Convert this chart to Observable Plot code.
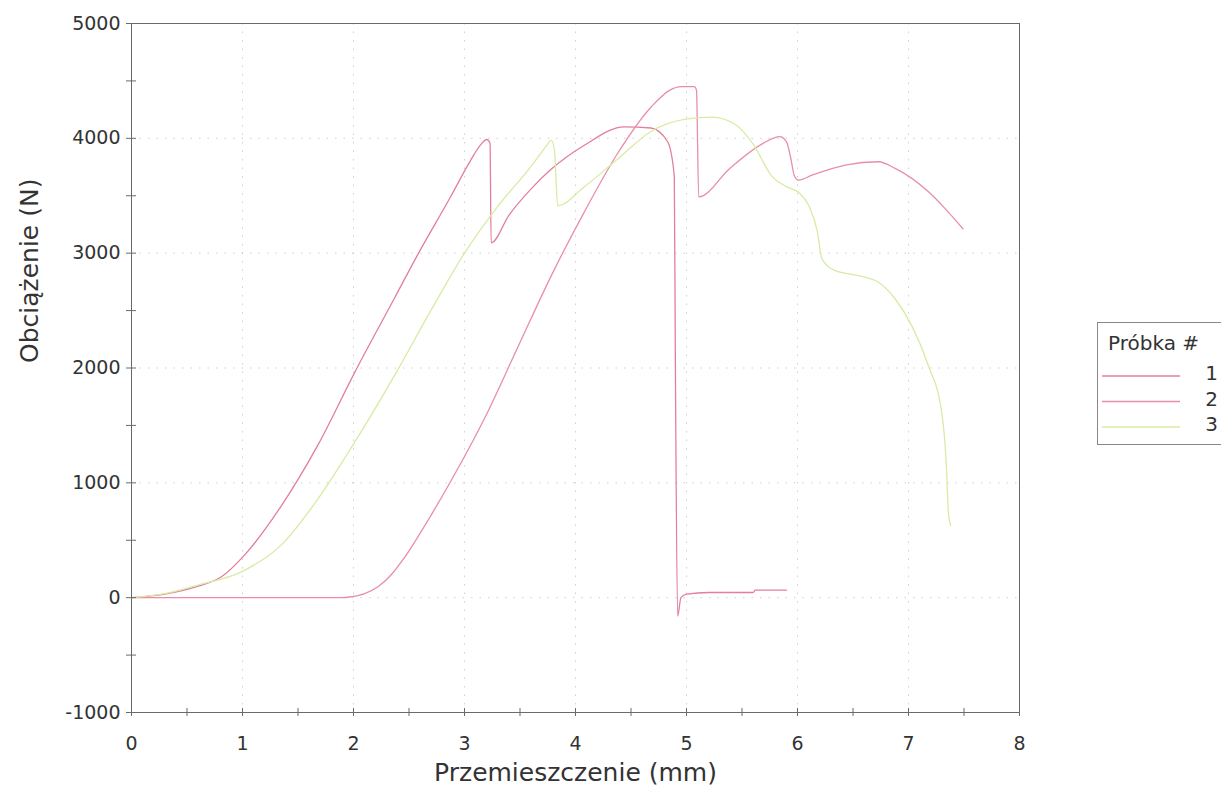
<!DOCTYPE html>
<html><head><meta charset="utf-8">
<script src="https://cdn.jsdelivr.net/npm/d3@7"></script>
<script src="https://cdn.jsdelivr.net/npm/@observablehq/plot@0.6"></script>
<style>
body{margin:0;background:#fff;font-family:"DejaVu Sans",Verdana,sans-serif;}
#wrap{position:relative;width:1221px;height:801px;overflow:hidden;}
#legend{position:absolute;left:1097px;top:322px;}
</style></head><body><div id="wrap"></div>
<script>
// ---- data ----
const seriesNames = ["1", "2", "3"];
const seriesColors = ["#e27f9b", "#e88ea8", "#d6eca4"];

const x1 = [0, 0.3, 0.6, 0.81, 1.02, 1.35, 1.68, 2.01, 2.37, 2.58, 2.88, 3.05, 3.15, 3.2, 3.23, 3.24, 3.4, 3.6, 3.78, 4.08, 4.44, 4.68, 4.83, 4.89, 4.9, 4.92, 4.95, 5.0, 5.2, 5.6, 5.62, 5.9];
const y1 = [0, 30, 100, 182, 373, 800, 1330, 1960, 2610, 2990, 3500, 3800, 3950, 3990, 3960, 3090, 3330, 3560, 3730, 3940, 4100, 4090, 3970, 3670, 2000, -160, 0, 30, 45, 45, 65, 65];

const x2 = [0, 1.0, 1.89, 1.98, 2.1, 2.22, 2.34, 2.46, 2.58, 2.88, 3.18, 3.48, 3.78, 4.08, 4.38, 4.68, 4.85, 4.95, 5.07, 5.09, 5.11, 5.39, 5.69, 5.84, 5.9, 5.94, 5.97, 6.01, 6.13, 6.43, 6.73, 6.88, 7.18, 7.33, 7.49];
const y2 = [0, 0, 0, 8, 35, 95, 200, 350, 530, 1020, 1560, 2180, 2800, 3360, 3870, 4271, 4420, 4450, 4450, 4420, 3490, 3738, 3956, 4015, 3971, 3825, 3679, 3636, 3679, 3767, 3796, 3738, 3534, 3388, 3213];

const x3 = [0, 0.3, 0.6, 0.99, 1.35, 1.68, 2.01, 2.40, 2.70, 3.0, 3.30, 3.60, 3.75, 3.78, 3.81, 3.84, 4.08, 4.38, 4.68, 4.98, 5.23, 5.44, 5.6, 5.77, 5.9, 6.01, 6.10, 6.18, 6.22, 6.34, 6.55, 6.73, 6.88, 7.03, 7.18, 7.30, 7.34, 7.36, 7.38];
const y3 = [0, 35, 110, 225, 460, 860, 1353, 1986, 2506, 3000, 3408, 3755, 3950, 3985, 3900, 3414, 3579, 3820, 4060, 4165, 4185, 4120, 3950, 3669, 3580, 3530, 3417, 3184, 2950, 2848, 2805, 2746, 2601, 2367, 2017, 1609, 1172, 735, 630];

const xTickLabels = [0, 1, 2, 3, 4, 5, 6, 7, 8];
const xTickMarks = [0, 0.5, 1, 1.5, 2, 2.5, 3, 3.5, 4, 4.5, 5, 5.5, 6, 6.5, 7, 7.5, 8];
const yTickLabels = [-1000, 0, 1000, 2000, 3000, 4000, 5000];
const yTickMarks = [-1000, -500, 0, 500, 1000, 1500, 2000, 2500, 3000, 3500, 4000, 4500, 5000];
const xGrid = [1, 2, 3, 4, 5, 6, 7];
const yGrid = [0, 1000, 2000, 3000, 4000];

const xTitle = "Przemieszczenie (mm)";
const yTitle = "Obciążenie (N)";
const legendTitle = "Próbka #";

// ---- build table ----
const xs = [x1, x2, x3], ys = [y1, y2, y3];
const data = [];
seriesNames.forEach((name, i) => xs[i].forEach((x, j) => data.push({series: name, x, y: ys[i][j]})));

const font = "DejaVu Sans, Verdana, sans-serif";
const textColor = "#333";
const axisColor = "#6a6a6a";
const plain = d => String(d);

const chart = Plot.plot({
  width: 1221,
  height: 801,
  marginLeft: 131,
  marginRight: 202,
  marginTop: 23,
  marginBottom: 89,
  style: {fontFamily: font, fontSize: "19px", color: textColor, background: "#fff"},
  x: {domain: [0, 8], label: null, axis: null},
  y: {domain: [-1000, 5000], label: null, axis: null},
  color: {domain: seriesNames, range: seriesColors},
  marks: [
    Plot.gridX(xGrid, {stroke: "#aaa", strokeOpacity: 0.55, strokeDasharray: "1.5,7"}),
    Plot.gridY(yGrid, {stroke: "#aaa", strokeOpacity: 0.55, strokeDasharray: "1.5,7"}),
    Plot.line(data, {x: "x", y: "y", z: "series", stroke: "series", strokeWidth: 1.3, curve: "monotone-x"}),
    Plot.frame({stroke: axisColor, strokeOpacity: 1}),
    Plot.axisY(yTickMarks, {tickSize: 10, dx: 5, fill: "none", stroke: axisColor, label: null}),
    Plot.axisY(yTickLabels, {tickSize: 0, tickPadding: 11, fill: textColor, fontSize: 19, tickFormat: plain, label: null}),
    Plot.axisX(xTickMarks, {tickSize: 8, dy: -4, fill: "none", stroke: axisColor, label: null}),
    Plot.axisX(xTickLabels, {tickSize: 0, tickPadding: 24, fill: textColor, fontSize: 19, tickFormat: plain, label: null}),
    Plot.text([yTitle], {text: d => d, frameAnchor: "left", dx: -102, dy: -5, rotate: -90, fontSize: 25, fill: textColor}),
    Plot.text([xTitle], {text: d => d, frameAnchor: "bottom", dy: 68, fontSize: 25, fill: textColor})
  ]
});
document.getElementById("wrap").appendChild(chart);

// ---- legend ----
const lg = d3.select("#wrap").append("svg").attr("id", "legend")
  .attr("width", 124).attr("height", 127)
  .style("font-family", font);
lg.append("rect").attr("x", 0.5).attr("y", 0.5).attr("width", 160).attr("height", 122)
  .attr("fill", "#fff").attr("stroke", "#888");
lg.append("text").attr("x", 11).attr("y", 28).attr("font-size", 20).attr("fill", textColor).text(legendTitle);
seriesNames.forEach((name, i) => {
  const cy = 54 + i * 25.5;
  lg.append("line").attr("x1", 5).attr("x2", 83).attr("y1", cy).attr("y2", cy)
    .attr("stroke", seriesColors[i]).attr("stroke-width", 1.3);
  lg.append("text").attr("x", 121).attr("y", cy + 4).attr("text-anchor", "end")
    .attr("font-size", 20).attr("fill", textColor).text(name);
});
</script>
</body></html>
